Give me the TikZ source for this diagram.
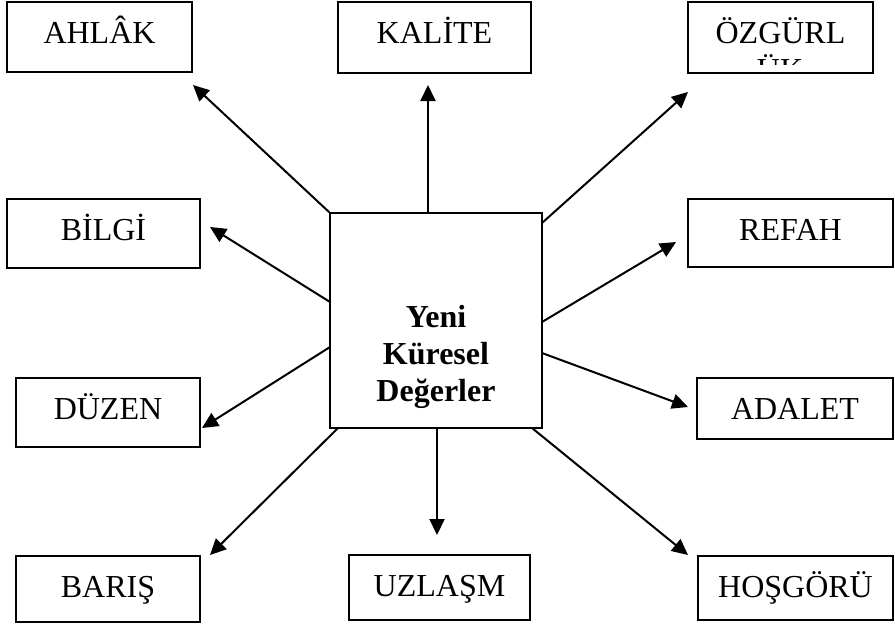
\documentclass[tikz,border=0pt]{standalone}
\usepackage{fontspec}
\setmainfont{Liberation Serif}
\usetikzlibrary{arrows.meta}
\begin{document}
\begin{tikzpicture}[x=1pt,y=-1pt,
  vbox/.style={draw, line width=1.6pt, inner sep=0pt, text height=41pt,
    font=\fontsize{32}{37}\selectfont},
  arr/.style={line width=2pt, -{Triangle[length=16pt,width=15pt]}}]
\useasboundingbox (0,0) rectangle (895,624);
% value boxes
\node[vbox, minimum width=185pt, minimum height=70pt, text depth=29pt] (ahlak) at (99.5,37) {AHLÂK};
\node[vbox, minimum width=193pt, minimum height=71pt, text depth=30pt] (kalite) at (434.5,37.5) {KALİTE};
\node[vbox, minimum width=185pt, minimum height=71pt, text depth=30pt] (ozgur) at (780.5,37.5) {ÖZGÜRL};
\begin{scope}
  \clip (689,3) rectangle (872,64);
  \node[anchor=base, inner sep=0pt, font=\fontsize{32}{37}\selectfont] (ozgur2) at (780,80) {ÜK};
\end{scope}
\node[vbox, minimum width=193pt, minimum height=69pt, text depth=28pt] (bilgi) at (103.5,233.5) {BİLGİ};
\node[vbox, minimum width=205pt, minimum height=68pt, text depth=27pt] (refah) at (790.5,233) {REFAH};
\node[vbox, minimum width=184pt, minimum height=69pt, text depth=28pt] (duzen) at (108,412.5) {DÜZEN};
\node[vbox, minimum width=196pt, minimum height=61pt, text depth=20pt] (adalet) at (795,408.5) {ADALET};
\node[vbox, minimum width=184pt, minimum height=66pt, text depth=25pt] (baris) at (108,589) {BARIŞ};
\node[vbox, minimum width=181pt, minimum height=65pt, text depth=24pt] (uzlasm) at (439.5,587.5) {UZLAŞM};
\node[vbox, minimum width=195pt, minimum height=64pt, text depth=23pt] (hosgoru) at (795.5,588) {HOŞGÖRÜ};
% central box
\node[draw, line width=1.6pt, minimum width=212pt, minimum height=215pt, inner sep=0pt] (c) at (436,320.5) {};
\node[anchor=base, align=center, inner sep=0pt, font=\fontsize{32}{37}\selectfont\bfseries] (ctext) at (436,401) {Yeni\\Küresel\\Değerler};
% connector end points
\coordinate (sKAL) at (428,213);  \coordinate (tKAL) at (428,85);
\coordinate (tAHL) at (193,85);
\coordinate (sOZG) at (542,223);  \coordinate (tOZG) at (688,92);
\coordinate (sBIL) at (330,302);  \coordinate (tBIL) at (210,227);
\coordinate (sREF) at (542,322);  \coordinate (tREF) at (676,242);
\coordinate (sDUZ) at (330,347);  \coordinate (tDUZ) at (202,428);
\coordinate (sADA) at (542,353);  \coordinate (tADA) at (688,407);
\coordinate (sBAR) at (338,428);  \coordinate (tBAR) at (210,555);
\coordinate (sUZL) at (437,428);  \coordinate (tUZL) at (437,535);
\coordinate (sHOS) at (532,428);  \coordinate (tHOS) at (688,555);
% connectors
\draw[arr] (c.north west) -- (tAHL);
\draw[arr] (sKAL) -- (tKAL);
\draw[arr] (sOZG) -- (tOZG);
\draw[arr] (sBIL) -- (tBIL);
\draw[arr] (sREF) -- (tREF);
\draw[arr] (sDUZ) -- (tDUZ);
\draw[arr] (sADA) -- (tADA);
\draw[arr] (sBAR) -- (tBAR);
\draw[arr] (sUZL) -- (tUZL);
\draw[arr] (sHOS) -- (tHOS);
\end{tikzpicture}
\end{document}
